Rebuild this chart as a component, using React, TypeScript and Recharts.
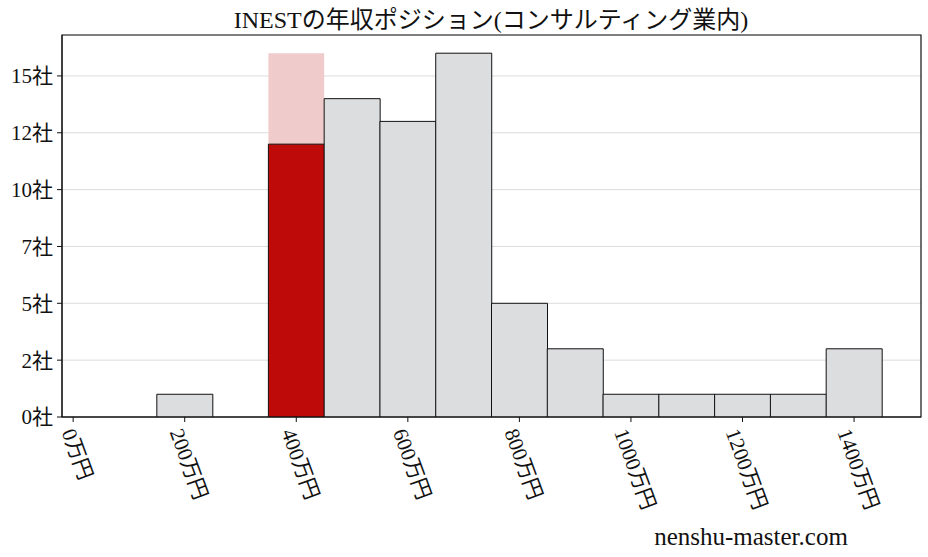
import React from 'react';
import {
  BarChart,
  Bar,
  Cell,
  XAxis,
  YAxis,
  CartesianGrid,
  ReferenceArea,
} from 'recharts';

// bin centres (万円) and company counts per bin
const salaryBins = [100, 200, 300, 400, 500, 600, 700, 800, 900, 1000, 1100, 1200, 1300, 1400];
const companyCounts = [0, 1, 0, 12, 14, 13, 16, 5, 3, 1, 1, 1, 1, 3];
const highlightBin = 400;
const highlightTop = 16;

const xDomain: [number, number] = [-20, 1520];
const yDomain: [number, number] = [0, 16.8];
const xTicks = [0, 200, 400, 600, 800, 1000, 1200, 1400];
const yTicks = [0, 2.5, 5, 7.5, 10, 12.5, 15];

const title = 'INESTの年収ポジション(コンサルティング業内)';
const watermark = 'nenshu-master.com';

const data = salaryBins.map((x, i) => ({ x, count: companyCounts[i] }));

const FONT = '"Liberation Serif", "Noto Sans CJK JP", serif';
const TICK_FS = 21;

function XTick(props: any) {
  const { x, y, payload } = props;
  const label = `${payload.value}万円`;
  const digits = String(payload.value).length;
  const len = digits * 0.5 * TICK_FS + 2 * TICK_FS;
  const rad = (70 * Math.PI) / 180;
  const boxH = len * Math.sin(rad) + TICK_FS * Math.cos(rad);
  const cx = x + 4;
  const cy = y + boxH / 2;
  return (
    <text
      x={cx}
      y={cy}
      textAnchor="middle"
      dominantBaseline="central"
      fontSize={TICK_FS}
      fontFamily={FONT}
      fill="#111"
      transform={`rotate(70, ${cx}, ${cy})`}
    >
      {label}
    </text>
  );
}

export default function App() {
  return (
    <div style={{ position: 'absolute', left: 0, top: 0, width: 928, height: 557, background: '#fff' }}>
      <BarChart
        width={928}
        height={557}
        data={data}
        margin={{ top: 35, right: 7, left: 0, bottom: 0 }}
        barCategoryGap={0}
        barGap={0}
      >
        <CartesianGrid vertical={false} stroke="#dcdcdc" strokeWidth={1} />
        <ReferenceArea
          x1={highlightBin - 50}
          x2={highlightBin + 50}
          y1={0}
          y2={highlightTop}
          fill="#f0cbcc"
          fillOpacity={1}
          stroke="none"
        />
        <ReferenceArea
          x1={xDomain[0]}
          x2={xDomain[1]}
          y1={yDomain[0]}
          y2={yDomain[1]}
          fill="none"
          stroke="#111"
          strokeWidth={1.2}
          ifOverflow="visible"
        />
        <XAxis
          dataKey="x"
          type="number"
          domain={xDomain}
          ticks={xTicks}
          interval={0}
          height={140}
          tickSize={5}
          tickMargin={4}
          stroke="#111"
          tick={<XTick />}
          allowDataOverflow
        />
        <YAxis
          type="number"
          domain={yDomain}
          ticks={yTicks}
          interval={0}
          width={62}
          tickSize={5}
          tickMargin={4}
          stroke="#111"
          tick={{ fontSize: TICK_FS, fontFamily: FONT, fill: '#111' }}
          tickFormatter={(v: number) => `${Math.floor(v)}社`}
          allowDataOverflow
        />
        <Bar dataKey="count" stroke="#111" strokeWidth={1} isAnimationActive={false}>
          {data.map((d) => (
            <Cell key={d.x} fill={d.x === highlightBin ? '#bf0a0a' : '#dcdddf'} />
          ))}
        </Bar>
      </BarChart>
      <svg width={928} height={557} style={{ position: 'absolute', left: 0, top: 0, pointerEvents: 'none' }}>
        <text x={491} y={28} textAnchor="middle" fontSize={24} fontFamily={FONT} fill="#111">
          {title}
        </text>
        <text x={751} y={545} textAnchor="middle" fontSize={25} fontFamily={FONT} fill="#111">
          {watermark}
        </text>
      </svg>
    </div>
  );
}
